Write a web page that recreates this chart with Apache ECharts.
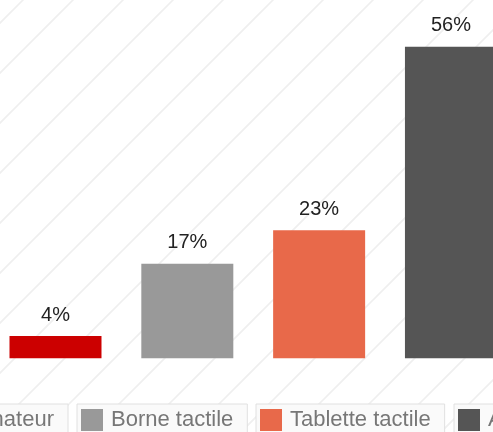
<!DOCTYPE html>
<html>
<head>
<meta charset="utf-8">
<script src="https://cdn.jsdelivr.net/npm/echarts@6/dist/echarts.min.js"></script>
<style>
html,body{margin:0;padding:0;background:#fff;}
#c{width:493px;height:432px;}
</style>
</head>
<body>
<div id="c"></div>
<script>
var categories = ['Ordinateur', 'Borne tactile', 'Tablette tactile', 'Autre'];
var positions = [0, 1, 2, 3];
var values = [4, 17, 23, 56];
var colors = ['#cc0000', '#999999', '#e8694a', '#555555'];

// subtle diagonal background pattern
var tile = document.createElement('canvas');
tile.width = 50; tile.height = 50;
var g = tile.getContext('2d');
g.fillStyle = '#ffffff';
g.fillRect(0, 0, 50, 50);
g.strokeStyle = '#efefef';
g.lineWidth = 1.6;
g.beginPath();
g.moveTo(-2, 25); g.lineTo(25, -2);
g.moveTo(21, 52); g.lineTo(52, 21);
g.stroke();

var chart = echarts.init(document.getElementById('c'));

var series = categories.map(function (name, i) {
  return {
    name: name,
    type: 'bar',
    barWidth: 92,
    barGap: '-100%',
    itemStyle: { color: colors[i] },
    label: {
      show: true,
      position: 'top',
      distance: 11,
      formatter: function (p) { return p.value[1] + '%'; },
      fontSize: 20,
      color: '#222',
      fontFamily: 'Liberation Sans, Arial, sans-serif'
    },
    data: [[positions[i], values[i]]]
  };
});

var legendPos = [
  { right: 425 },
  { left: 77 },
  { left: 256 },
  { left: 454 }
];
var legends = categories.map(function (name, i) {
  var l = {
    data: [name],
    top: 404,
    orient: 'horizontal',
    padding: [5, 14, 5, 4],
    backgroundColor: '#fafafa',
    borderColor: '#e0e0e0',
    borderWidth: 1,
    itemWidth: 22,
    itemHeight: 22,
    icon: 'rect',
    selectedMode: false,
    textStyle: {
      fontSize: 22,
      color: '#777',
      padding: [0, 0, 0, 3],
      fontFamily: 'Liberation Sans, Arial, sans-serif'
    }
  };
  for (var k in legendPos[i]) l[k] = legendPos[i][k];
  return l;
});

chart.setOption({
  backgroundColor: { image: tile, repeat: 'repeat' },
  animation: false,
  grid: { left: 0, right: 0, top: 24.5, bottom: 73.7, containLabel: false },
  xAxis: {
    type: 'value',
    min: -0.421,
    max: 3.319,
    show: false,
    splitLine: { show: false }
  },
  yAxis: {
    type: 'value',
    min: 0,
    max: 60,
    show: false,
    splitLine: { show: false }
  },
  legend: legends,
  series: series
});
</script>
</body>
</html>
